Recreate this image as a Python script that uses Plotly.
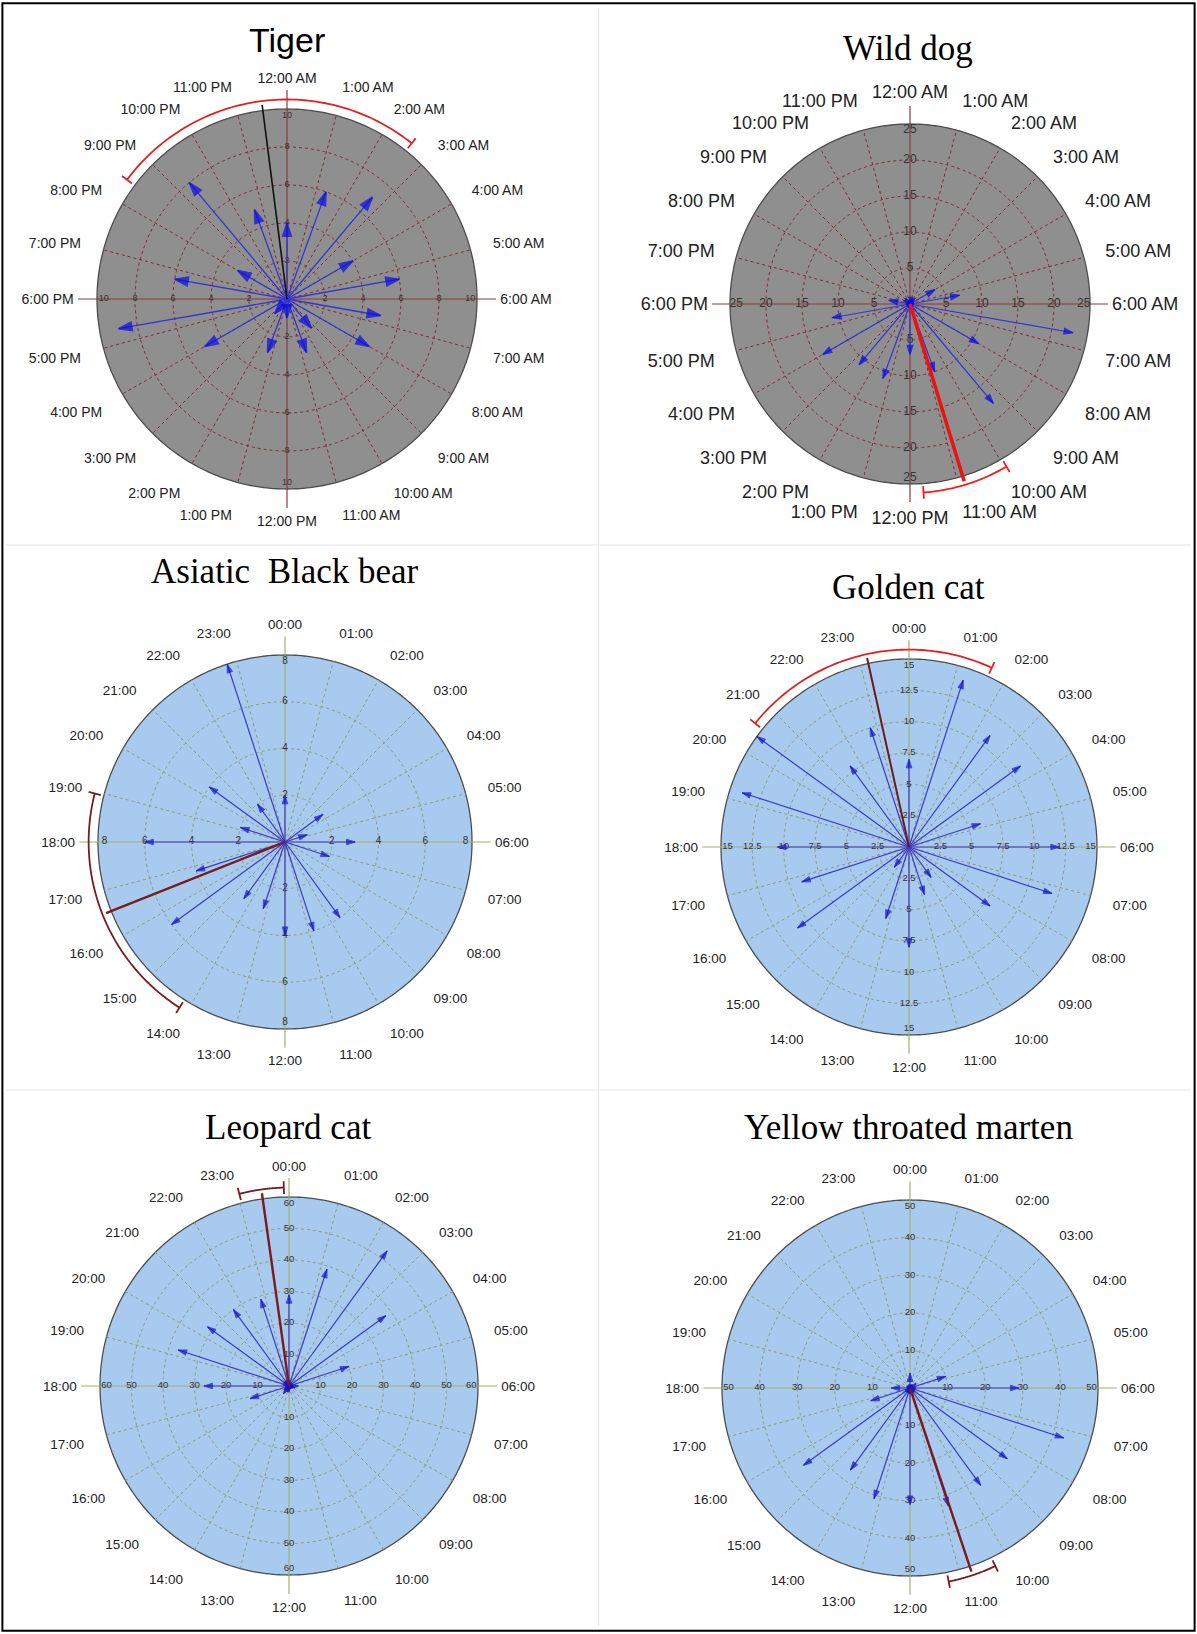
import numpy as np
import plotly.graph_objects as go

W, H = 1197, 1634

# ---------------- data ----------------
# clock labels around each dial
clock_12h = (["12:00 AM"] + [f"{h}:00 AM" for h in range(1, 12)]
             + ["12:00 PM"] + [f"{h}:00 PM" for h in range(1, 12)])
clock_24h = [f"{h:02d}:00" for h in range(24)]

# Tiger: 18 bins of 80 min (20 deg)
tiger_theta = list(range(0, 360, 20))
tiger_counts = [4, 6, 7, 4, 6, 5, 5, 2, 3, 1, 3, 1, 5, 9, 6, 3, 8, 5]
tiger_mean = 352.7
tiger_ci = [306.7, 398.7]

# Wild dog: 18 bins of 20 deg
wilddog_theta = list(range(0, 360, 20))
wilddog_counts = [1, 1, 1, 4, 7, 23, 11, 18, 10, 7, 11, 11, 14, 11, 3, 1, 1, 0]
wilddog_mean = 163.0
wilddog_ci = [149.3, 175.9]

# Asiatic black bear: 20 bins of 18 deg
bear_theta = list(range(0, 360, 18))
bear_counts = [2, 0, 0, 2, 1, 3, 2, 0, 4, 4, 4, 3, 3, 6, 4, 6, 2, 4, 2, 8]
bear_mean = 248.3
bear_ci = [212.5, 284.3]

# Golden cat
golden_theta = list(range(0, 360, 18))
golden_counts = [7, 14, 11, 11, 6, 12, 12, 8, 3, 4, 8, 6, 2, 11, 9, 10.5, 14, 15, 8, 10]
golden_mean = 347.5
golden_ci = [308.8, 384.8]

# Leopard cat
leopard_theta = list(range(0, 360, 18))
leopard_counts = [29, 39, 53, 38, 20, 3, 2, 1, 1, 1, 2, 2, 3, 2, 13, 27, 37, 32, 30, 29]
leopard_mean = 352.0
leopard_ci = [345.5, 358.5]

# Yellow throated marten
marten_theta = list(range(0, 360, 18))
marten_counts = [4, 1, 1, 2, 10, 29, 43, 32, 32, 33, 31, 31, 27, 35, 11, 5, 1, 1, 0, 1]
marten_mean = 161.5
marten_ci = [154.4, 168.7]

# ---------------- styling / layout ----------------
grey_style = dict(disk="#8f8f8f", grid="#7a2e2e", cross="#8b3a3a",
                  arrow="#3434d4", headcolor="#0a0ae6")
blue_style = dict(disk="#a8caef", grid="#8c9a78", cross="#a3b06a",
                  arrow="#3a3ac8", headcolor="#1515c8")

panels = [
    dict(title="Tiger", tfont="Liberation Sans", tsize=34, tx=287, ty=40,
         cx=287, cy=299, R=190, theta=tiger_theta, counts=tiger_counts,
         mean=tiger_mean, ci=tiger_ci, rmax=10, step=2, labels=clock_12h,
         lsize=14, rsize=9, head=14, hw=1.6, aw=1.3, mean_color="#111111", mean_w=1.6,
         ci_color="#dd2222", **grey_style),
    dict(title="Wild dog", tfont="Liberation Serif", tsize=35, tx=908, ty=48,
         cx=910, cy=304, R=180, theta=wilddog_theta, counts=wilddog_counts,
         mean=wilddog_mean, ci=wilddog_ci, rmax=25, step=5, labels=clock_12h,
         lsize=18, rsize=12, head=9.5, hw=1.2, aw=1.2, mean_color="#ee1111", mean_w=3.5,
         ci_color="#ee2222", **grey_style),
    dict(title="Asiatic  Black bear", tfont="Liberation Serif", tsize=35, tx=285, ty=571,
         cx=285, cy=842, R=187, theta=bear_theta, counts=bear_counts,
         mean=bear_mean, ci=bear_ci, rmax=8, step=2, labels=clock_24h,
         lsize=13.5, rsize=10, head=9, hw=1.0, aw=1.2, mean_color="#7a1c1c", mean_w=2.4,
         ci_color="#7a1c1c", **blue_style),
    dict(title="Golden cat", tfont="Liberation Serif", tsize=35, tx=908, ty=587,
         cx=909, cy=847, R=188, theta=golden_theta, counts=golden_counts,
         mean=golden_mean, ci=golden_ci, rmax=15, step=2.5, labels=clock_24h,
         lsize=13.5, rsize=9.5, head=9, hw=1.0, aw=1.2, mean_color="#6a1c1c", mean_w=2.0,
         ci_color="#dd2222", **blue_style),
    dict(title="Leopard cat", tfont="Liberation Serif", tsize=35, tx=288, ty=1127,
         cx=289, cy=1386, R=189, theta=leopard_theta, counts=leopard_counts,
         mean=leopard_mean, ci=leopard_ci, rmax=60, step=10, labels=clock_24h,
         lsize=13.5, rsize=9.5, head=9, hw=1.0, aw=1.2, mean_color="#7a1c1c", mean_w=2.4,
         ci_color="#7a1c1c", **blue_style),
    dict(title="Yellow throated marten", tfont="Liberation Serif", tsize=35, tx=908, ty=1127,
         cx=910, cy=1388, R=188, theta=marten_theta, counts=marten_counts,
         mean=marten_mean, ci=marten_ci, rmax=50, step=10, labels=clock_24h,
         lsize=13.5, rsize=9.5, head=9, hw=1.0, aw=1.2, mean_color="#7a1c1c", mean_w=2.4,
         ci_color="#7a1c1c", **blue_style),
]

K = 1.12          # radial range relative to the outer ring
CROSS = 1.10      # crosshair reach
MEAN_LEN = 1.03   # mean vector length
CI_R = 1.05       # radius of the confidence arc

fig = go.Figure()
layout = dict(width=W, height=H, margin=dict(l=0, r=0, t=0, b=0),
              paper_bgcolor="white", plot_bgcolor="white", showlegend=False)
annotations = []

ring_theta = np.linspace(0, 360, 361)

for i, p in enumerate(panels, start=1):
    sub = "polar" if i == 1 else f"polar{i}"
    rmax = p["rmax"]
    rings = list(np.arange(p["step"], rmax + 1e-9, p["step"]))

    # background disk
    fig.add_trace(go.Scatterpolar(
        r=[rmax] * len(ring_theta), theta=ring_theta, mode="lines",
        fill="toself", fillcolor=p["disk"], line=dict(color="#4d4d4d", width=1.3),
        subplot=sub, hoverinfo="skip"))

    # dotted concentric rings
    rr, tt = [], []
    for v in rings[:-1]:
        rr += [v] * len(ring_theta) + [None]
        tt += list(ring_theta) + [None]
    fig.add_trace(go.Scatterpolar(r=rr, theta=tt, mode="lines",
                                  line=dict(color=p["grid"], width=1, dash="dot"),
                                  subplot=sub, hoverinfo="skip"))

    # dotted hourly spokes
    rr, tt = [], []
    for a in range(0, 360, 15):
        if a % 90 == 0:
            continue
        rr += [0, rmax, None]
        tt += [a, a, None]
    fig.add_trace(go.Scatterpolar(r=rr, theta=tt, mode="lines",
                                  line=dict(color=p["grid"], width=1, dash="dot"),
                                  subplot=sub, hoverinfo="skip"))

    # solid crosshair
    rr, tt = [], []
    for a in (0, 90, 180, 270):
        rr += [0, CROSS * rmax, None]
        tt += [a, a, None]
    fig.add_trace(go.Scatterpolar(r=rr, theta=tt, mode="lines",
                                  line=dict(color=p["cross"], width=1.2),
                                  subplot=sub, hoverinfo="skip"))

    # radial value labels along the crosshair
    rr, tt, txt = [], [], []
    for a in (0, 90, 180, 270):
        for v in rings:
            rr.append(v if v < rmax else v * 0.965)
            tt.append(a)
            txt.append(f"{v:g}")
    fig.add_trace(go.Scatterpolar(r=rr, theta=tt, mode="text", text=txt,
                                  textfont=dict(family="Liberation Sans", size=p["rsize"],
                                                color="#333333"),
                                  subplot=sub, hoverinfo="skip"))

    # bin arrows
    rr, tt, sz, ang = [], [], [], []
    for a, c in zip(p["theta"], p["counts"]):
        if c <= 0:
            continue
        rr += [0, c, None]
        tt += [a, a, None]
        sz += [0, p["head"], 0]
        ang += [a, a, 0]
    fig.add_trace(go.Scatterpolar(
        r=rr, theta=tt, mode="lines+markers",
        line=dict(color=p["arrow"], width=p["aw"]),
        marker=dict(symbol="arrow", size=sz, angle=ang, color=p["headcolor"],
                    line=dict(width=p["hw"], color=p["headcolor"])),
        subplot=sub, hoverinfo="skip"))

    # mean vector
    fig.add_trace(go.Scatterpolar(r=[0, MEAN_LEN * rmax], theta=[p["mean"], p["mean"]],
                                  mode="lines",
                                  line=dict(color=p["mean_color"], width=p["mean_w"]),
                                  subplot=sub, hoverinfo="skip"))

    # confidence arc with end caps
    arc_t = np.linspace(p["ci"][0], p["ci"][1], 80)
    fig.add_trace(go.Scatterpolar(r=[CI_R * rmax] * len(arc_t), theta=arc_t, mode="lines",
                                  line=dict(color=p["ci_color"], width=1.8),
                                  subplot=sub, hoverinfo="skip"))
    fig.add_trace(go.Scatterpolar(
        r=[CI_R * rmax] * 2, theta=p["ci"], mode="markers",
        marker=dict(symbol="line-ns", size=9, angle=p["ci"],
                    line=dict(color=p["ci_color"], width=1.8)),
        subplot=sub, hoverinfo="skip"))

    # polar frame
    rp = K * p["R"]
    layout[sub] = dict(
        domain=dict(x=[(p["cx"] - rp) / W, (p["cx"] + rp) / W],
                    y=[1 - (p["cy"] + rp) / H, 1 - (p["cy"] - rp) / H]),
        bgcolor="rgba(0,0,0,0)",
        radialaxis=dict(visible=False, range=[0, K * rmax]),
        angularaxis=dict(rotation=90, direction="clockwise",
                         tickmode="array", tickvals=list(range(0, 360, 15)),
                         ticktext=p["labels"], showline=False, showgrid=False,
                         ticks="", tickfont=dict(family="Liberation Sans",
                                                 size=p["lsize"], color="#222222")),
    )

    annotations.append(dict(text=p["title"], x=p["tx"] / W, y=1 - p["ty"] / H,
                            xref="paper", yref="paper", showarrow=False,
                            xanchor="center", yanchor="middle",
                            font=dict(family=p["tfont"], size=p["tsize"], color="black")))

layout["annotations"] = annotations
layout["shapes"] = [
    dict(type="line", xref="paper", yref="paper", x0=0.5, x1=0.5, y0=0.005, y1=0.995,
         line=dict(color="#e6e6e6", width=1)),
    dict(type="line", xref="paper", yref="paper", x0=0.005, x1=0.995,
         y0=1 - 545 / H, y1=1 - 545 / H, line=dict(color="#e6e6e6", width=1)),
    dict(type="line", xref="paper", yref="paper", x0=0.005, x1=0.995,
         y0=1 - 1090 / H, y1=1 - 1090 / H, line=dict(color="#e6e6e6", width=1)),
    dict(type="rect", xref="paper", yref="paper", x0=0.002, x1=0.998, y0=0.002, y1=0.998,
         line=dict(color="black", width=2)),
]

fig.update_layout(**layout)
fig.write_html("out.html")
